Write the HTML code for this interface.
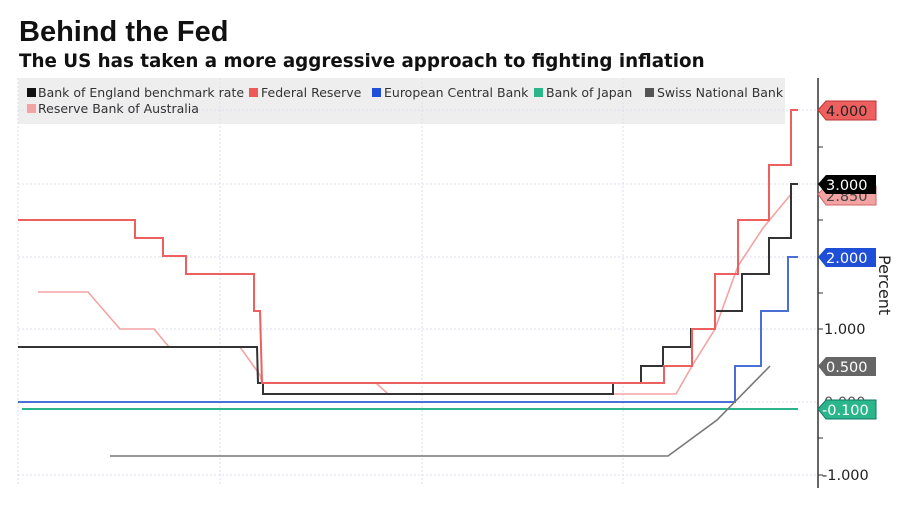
<!DOCTYPE html>
<html><head><meta charset="utf-8"><style>
body{margin:0;background:#fff;}
svg{display:block;font-family:"DejaVu Sans","Liberation Sans",sans-serif;}
</style></head><body>
<svg width="900" height="510" viewBox="0 0 900 510" xmlns="http://www.w3.org/2000/svg">
<rect width="900" height="510" fill="#fff"/>
<text x="19" y="41" font-size="29" font-weight="bold" fill="#111" font-family="Liberation Sans, sans-serif">Behind the Fed</text>
<text x="19" y="67" font-size="18.3" font-weight="bold" fill="#111">The US has taken a more aggressive approach to fighting inflation</text>
<rect x="18" y="78" width="767" height="46" fill="#eeeeee"/>
<g stroke="#dde" stroke-width="1" stroke-dasharray="2,2">
<line x1="18" y1="110" x2="818" y2="110"/><line x1="18" y1="184" x2="818" y2="184"/>
<line x1="18" y1="257" x2="818" y2="257"/><line x1="18" y1="329" x2="818" y2="329"/>
<line x1="18" y1="402" x2="818" y2="402"/><line x1="18" y1="475" x2="818" y2="475"/>
<line x1="18" y1="78" x2="18" y2="485"/><line x1="220" y1="78" x2="220" y2="485"/>
<line x1="422" y1="78" x2="422" y2="485"/><line x1="623" y1="78" x2="623" y2="485"/>
</g>
<g font-size="12.5" fill="#333">
<rect x="27" y="88" width="9" height="9" fill="#111"/><text x="38" y="97">Bank of England benchmark rate</text>
<rect x="249" y="88" width="9" height="9" fill="#ee5a5a"/><text x="261" y="97">Federal Reserve</text>
<rect x="372" y="88" width="9" height="9" fill="#1e4fd6"/><text x="384" y="97">European Central Bank</text>
<rect x="534" y="88" width="9" height="9" fill="#2bb58a"/><text x="546" y="97">Bank of Japan</text>
<rect x="645" y="88" width="9" height="9" fill="#555"/><text x="657" y="97">Swiss National Bank</text>
<rect x="27" y="104" width="9" height="9" fill="#f4a3a3"/><text x="38" y="113">Reserve Bank of Australia</text>
</g>
<g fill="none" stroke-width="2" stroke-linejoin="miter">
<polyline stroke="#2bb58a" points="22,409 798,409"/>
<polyline stroke="#4a6fd6" points="18,402 735,402 735,366 761,366 761,311 788,311 788,257 798,257"/>
<polyline stroke="#777" stroke-width="1.6" points="110,456 668,456 717,420 770,366"/>
<polyline stroke="#f4a3a3" stroke-width="1.6" points="38,292 88,292 120,329 154,329 169,347 240,347 260,375 262,383 376,383 388,394 676,394 692,366 715,329 738,266 763,228 792,193"/>
<polyline stroke="#333" points="18,347 257,347 258,383 263,383 263,394 613,394 613,383 641,383 641,366 663,366 663,347 691,347 691,329 715,329 715,311 742,311 742,274 769,274 769,238 791,238 791,184 798,184"/>
<polyline stroke="#ee6060" points="18,220 135,220 135,238 163,238 163,256 186,256 186,274 254,274 254,311 260,311 262,383 664,383 664,366 692,366 692,329 715,329 715,274 738,274 738,220 769,220 769,165 791,165 791,110 798,110"/>
</g>
<line x1="818" y1="78" x2="818" y2="488" stroke="#333" stroke-width="1.5"/>
<g stroke="#333"><line x1="818" y1="147" x2="823" y2="147"/><line x1="818" y1="220" x2="823" y2="220"/><line x1="818" y1="293" x2="823" y2="293"/><line x1="818" y1="329" x2="823" y2="329"/><line x1="818" y1="438" x2="823" y2="438"/><line x1="818" y1="475" x2="823" y2="475"/></g>
<g font-size="14.5" fill="#222"><text x="824" y="334">1.000</text><text x="822" y="480">-1.000</text><text x="824" y="407" fill="#555">0.000</text></g>
<g font-size="14.5" fill="#fff" stroke-width="1">
<path d="M818,110 L826,101 H876 V120 H826 Z" fill="#ee6060" stroke="#b33"/><text x="826" y="116" fill="#222">4.000</text>
<path d="M818,194 L826,186 H876 V205 H826 Z" fill="#f4a3a3" stroke="#c66"/><text x="826" y="201" fill="#444">2.850</text>
<path d="M818,184 L826,175 H876 V194 H826 Z" fill="#000"/><text x="826" y="190">3.000</text>
<path d="M818,257 L826,248 H876 V267 H826 Z" fill="#1e4fd6"/><text x="826" y="263">2.000</text>
<path d="M818,366 L826,357 H876 V376 H826 Z" fill="#666"/><text x="826" y="372">0.500</text>
<path d="M818,409 L826,400 H876 V419 H826 Z" fill="#2bb58a" stroke="#176"/><text x="822" y="415">-0.100</text>
</g>
<text transform="translate(879,255) rotate(90)" font-size="16" fill="#222">Percent</text>
</svg>
</body></html>
